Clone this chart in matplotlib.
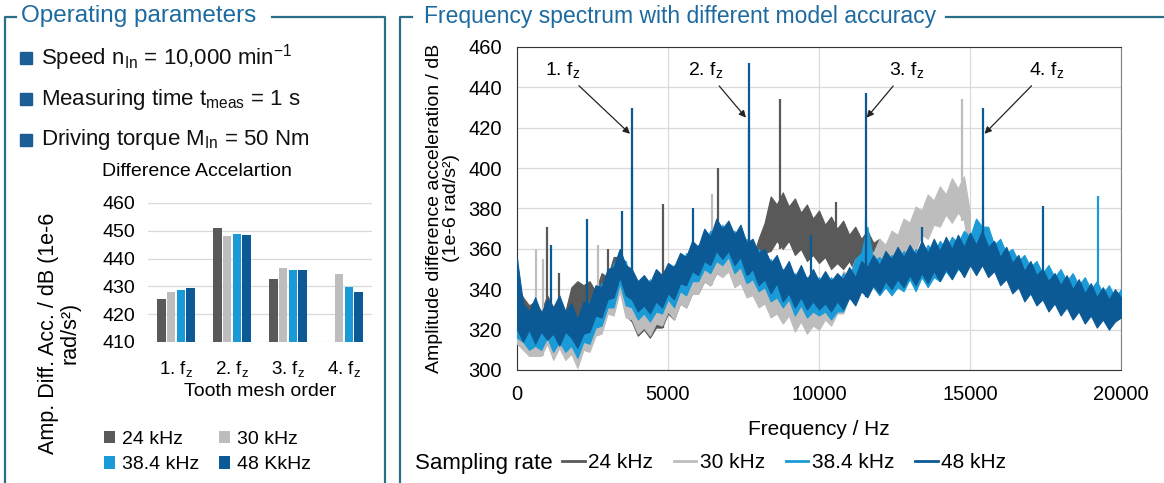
import matplotlib.pyplot as plt
from matplotlib.lines import Line2D
import numpy as np

plt.rcParams['font.family'] = ['Liberation Sans', 'DejaVu Sans']
plt.rcParams['mathtext.fontset'] = 'custom'
plt.rcParams['mathtext.rm'] = 'Liberation Sans'
plt.rcParams['mathtext.it'] = 'Liberation Sans:italic'
NARROW = ['Liberation Sans Narrow', 'Liberation Sans']

# ---- data ----
orders = ['1. f$_\\mathrm{z}$', '2. f$_\\mathrm{z}$', '3. f$_\\mathrm{z}$', '4. f$_\\mathrm{z}$']
bar_24 = [425.5, 451.0, 432.8, np.nan]
bar_30 = [428.0, 448.3, 436.7, 434.3]
bar_38 = [428.7, 448.8, 435.8, 429.8]
bar_48 = [429.3, 448.4, 436.0, 428.0]

# spectrum noise band: low and high values every 200 Hz
step = 200
lo_48 = [320, 314, 320, 313, 319, 315, 318, 312, 319, 316,
         311, 318, 319, 327, 326, 335, 336, 346, 337, 335,
         329, 332, 328, 334, 331, 338, 335, 343, 342, 349,
         347, 354, 352, 359, 355, 359, 352, 356, 347, 350,
         342, 345, 338, 343, 334, 338, 331, 336, 330, 334,
         330, 333, 329, 334, 330, 336, 332, 339, 336, 342,
         338, 344, 340, 345, 341, 347, 342, 348, 343, 349,
         344, 350, 345, 351, 346, 352, 347, 352, 346, 349,
         342, 345, 338, 341, 334, 338, 332, 335, 329, 333,
         327, 331, 325, 329, 323, 327, 321, 325, 320, 324, 326]
hi_48 = [355, 333, 329, 336, 328, 335, 331, 337, 329, 333,
         325, 334, 333, 342, 341, 350, 351, 360, 352, 350,
         344, 347, 343, 350, 347, 353, 351, 358, 356, 364,
         361, 370, 366, 375, 370, 374, 367, 372, 363, 365,
         358, 360, 353, 357, 349, 354, 346, 352, 345, 350,
         344, 349, 344, 348, 345, 351, 346, 354, 351, 357,
         352, 359, 355, 361, 356, 362, 357, 364, 358, 365,
         359, 366, 360, 367, 361, 368, 362, 369, 361, 364,
         356, 361, 353, 357, 349, 354, 347, 350, 344, 348,
         342, 347, 340, 345, 338, 343, 336, 341, 335, 340, 336]
lo_38 = [316, 314, 310, 312, 310, 316, 309, 314, 309, 312,
         306, 314, 313, 321, 322, 331, 331, 343, 332, 331,
         325, 328, 324, 329, 328, 335, 331, 339, 337, 344,
         344, 350, 348, 354, 352, 356, 348, 351, 343, 345,
         339, 341, 334, 336, 331, 335, 327, 332, 326, 329,
         327, 329, 325, 329, 329, 336, 333, 344, 343, 341,
         337, 341, 337, 341, 339, 345, 339, 346, 341, 346,
         344, 349, 345, 350, 348, 354, 351, 357, 349, 350,
         345, 347, 340, 342, 337, 341, 334, 337, 331, 334,
         330, 333, 327, 330, 326, 330, 323, 327, 322, 326, 326]
hi_38 = [345, 330, 325, 329, 324, 331, 325, 330, 324, 328,
         323, 324, 334, 333, 343, 342, 353, 355, 354, 342,
         343, 338, 345, 339, 347, 344, 352, 349, 358, 355,
         362, 362, 369, 366, 372, 365, 369, 361, 365, 356,
         360, 351, 355, 348, 350, 345, 348, 343, 346, 342,
         346, 340, 346, 340, 348, 345, 355, 358, 371, 354,
         356, 352, 357, 353, 359, 355, 360, 356, 362, 358,
         364, 360, 366, 363, 369, 366, 375, 371, 371, 362,
         365, 358, 360, 354, 357, 351, 354, 348, 352, 346,
         350, 344, 348, 342, 346, 340, 344, 338, 342, 336, 340]
lo_30 = [313, 310, 307, 307, 307, 313, 305, 311, 305, 308,
         301, 310, 309, 317, 318, 328, 327, 339, 326, 325,
         318, 321, 317, 323, 322, 329, 325, 333, 331, 338,
         338, 344, 342, 348, 346, 349, 341, 343, 336, 337,
         331, 333, 326, 328, 323, 327, 319, 324, 318, 322,
         320, 325, 322, 328, 328, 336, 333, 342, 340, 346,
         345, 351, 348, 354, 354, 362, 359, 367, 365, 372,
         371, 377, 373, 378, 374, 355]
hi_30 = [340, 328, 324, 326, 321, 328, 322, 326, 321, 325,
         320, 321, 331, 330, 340, 340, 352, 354, 352, 338,
         338, 333, 340, 335, 343, 340, 348, 346, 355, 352,
         359, 359, 366, 363, 369, 362, 365, 357, 360, 351,
         354, 346, 349, 342, 344, 339, 342, 336, 340, 336,
         341, 337, 344, 341, 349, 347, 355, 354, 361, 358,
         365, 362, 369, 367, 375, 373, 381, 379, 387, 384,
         391, 387, 395, 390, 396, 378]
lo_24 = [316, 316, 313, 313, 313, 317, 314, 315, 312, 319,
         320, 327, 319, 325, 325, 333, 332, 342, 327, 324,
         317, 320, 316, 321, 321, 328, 325, 333, 331, 338,
         338, 344, 342, 348, 347, 350, 342, 344, 337, 338,
         341, 358, 359, 364, 360, 364, 357, 360, 354, 357,
         353, 356, 350, 353, 350, 354, 348, 352, 347, 351, 350]
hi_24 = [342, 336, 332, 334, 329, 337, 331, 335, 329, 341,
         344, 342, 344, 339, 348, 346, 356, 356, 351, 338,
         338, 334, 339, 335, 344, 340, 349, 346, 355, 352,
         359, 358, 366, 364, 371, 364, 367, 359, 363, 355,
         365, 373, 386, 382, 388, 381, 385, 378, 382, 375,
         379, 372, 376, 370, 374, 367, 371, 365, 369, 363, 365]

# spikes (frequency in Hz, peak in dB)
spk_48_f = [0, 1140, 2320, 3480, 3800, 5830, 7680, 9730, 11550, 13400, 15430, 17420]
spk_48_v = [355, 362, 375, 379, 430, 380, 452, 367, 437, 371, 430, 381]
spk_38_f = [3800, 7680, 11550, 15430, 19240]
spk_38_v = [400, 420, 375, 375, 386]
spk_30_f = [630, 850, 2670, 6460, 14750]
spk_30_v = [360, 355, 362, 387, 434]
spk_24_f = [980, 1400, 3000, 4830, 6650, 8700, 10560]
spk_24_v = [371, 348, 360, 382, 400, 434, 383]

rates = ['24 kHz', '30 kHz', '38.4 kHz', '48 kHz']
bar_labels = ['24 kHz', '30 kHz', '38.4 kHz', '48 KkHz']
colors = ['#595959', '#bdbdbd', '#1a9ad6', '#0b5a96']

frame_c = '#2b6e88'
title_c = '#1d6aa0'

W, H = 1164, 483
fig = plt.figure(figsize=(W / 100, H / 100), dpi=100)


def fx(x):
    return x / W


def fy(y):
    return 1 - y / H


def fline(xs, ys):
    fig.add_artist(Line2D([fx(v) for v in xs], [fy(v) for v in ys],
                          color=frame_c, lw=1.6, transform=fig.transFigure))


# ---- panel frames and titles ----
fline([16, 5, 5], [17, 17, 483])
fline([272, 385, 385], [17, 17, 483])
fline([412, 400, 400], [17, 17, 483])
fline([946, 1164], [17, 17])
fig.text(fx(21), fy(16), 'Operating parameters', color=title_c, fontsize=17.5, va='center')
fig.text(fx(424), fy(16), 'Frequency spectrum with different model accuracy', color=title_c,
         fontsize=16.5, va='center', family=NARROW)

bullets = ['Speed n$_\\mathrm{In}$ = 10,000 min$^\\mathrm{-1}$',
           'Measuring time t$_\\mathrm{meas}$ = 1 s',
           'Driving torque M$_\\mathrm{In}$ = 50 Nm']
for i, b in enumerate(bullets):
    y = 58 + i * 41
    fig.patches.append(plt.Rectangle((fx(20), fy(y + 6)), 12 / W, 12 / H, color='#1b5e95',
                                     transform=fig.transFigure))
    fig.text(fx(41), fy(y), b, fontsize=16, va='center', color='#111111')

# ---- bar chart ----
axb = fig.add_axes([fx(148), fy(342), (372 - 148) / W, (342 - 203) / H])
xb = np.arange(len(orders))
bw = 0.155
for k, vals in enumerate([bar_24, bar_30, bar_38, bar_48]):
    axb.bar(xb + (k - 1.5) * (bw + 0.02), np.array(vals) - 410, bottom=410, width=bw,
            color=colors[k], label=bar_labels[k], zorder=3)
axb.set_ylim(410, 460)
axb.set_yticks(range(410, 461, 10))
axb.set_xlim(-0.5, 3.5)
axb.set_xticks(xb)
axb.set_xticklabels(orders, fontsize=13.5)
axb.tick_params(axis='y', labelsize=14, length=0, pad=9)
axb.tick_params(axis='x', length=0, pad=12)
axb.grid(axis='y', color='#d9d9d9', lw=0.9, zorder=0)
for s in axb.spines.values():
    s.set_visible(False)
axb.set_xlabel('Tooth mesh order', fontsize=14, labelpad=3)
fig.text(fx(197), fy(172), 'Difference Accelartion', fontsize=14, ha='center', va='center')
fig.text(fx(59), fy(333), 'Amp. Diff. Acc. / dB (1e-6\nrad/s²)', fontsize=15.5, rotation=90,
         ha='center', va='center', linespacing=1.05)
hb, lb = axb.get_legend_handles_labels()
order = [0, 2, 1, 3]
fig.legend([hb[i] for i in order], [lb[i] for i in order], ncol=2, loc='upper left',
           bbox_to_anchor=(fx(86), fy(413)), frameon=False, fontsize=14,
           handlelength=0.6, handleheight=0.6, handletextpad=0.35,
           columnspacing=1.0, labelspacing=0.45)

# ---- spectrum ----
ax = fig.add_axes([fx(517), fy(370), (1121 - 517) / W, (370 - 47) / H])
series = [(lo_24, hi_24, spk_24_f, spk_24_v), (lo_30, hi_30, spk_30_f, spk_30_v),
          (lo_38, hi_38, spk_38_f, spk_38_v), (lo_48, hi_48, spk_48_f, spk_48_v)]
for k, (lo, hi, sf, sv) in enumerate(series):
    n = len(lo)
    f = np.arange(n) * step
    ax.fill_between(f, lo, hi, color=colors[k], lw=0.8, edgecolor=colors[k], zorder=2 + k)
    base = [lo[min(int(round(q / step)), n - 1)] for q in sf]
    ax.vlines(sf, base, sv, color=colors[k], lw=1.6, zorder=2 + k)

ax.set_xlim(0, 20000)
ax.set_ylim(300, 460)
ax.set_xticks(range(0, 20001, 5000))
ax.set_yticks(range(300, 461, 20))
ax.grid(color='#d9d9d9', lw=0.9, zorder=0)
ax.tick_params(labelsize=14.5, length=0, pad=11)
ax.spines['right'].set_color('#808080')
for s in ['left', 'bottom', 'top']:
    ax.spines[s].set_color('#333333')
ax.set_xlabel('Frequency / Hz', fontsize=15, labelpad=11, family=NARROW)
ax.set_ylabel('Amplitude difference acceleration / dB\n(1e-6 rad/s²)', fontsize=14,
              labelpad=6, linespacing=1.0)

notes = [('1. f$_\\mathrm{z}$', 1500, 448.6, 3740, 417),
         ('2. f$_\\mathrm{z}$', 6250, 448.6, 7580, 425),
         ('3. f$_\\mathrm{z}$', 12900, 448.6, 11580, 425),
         ('4. f$_\\mathrm{z}$', 17550, 448.6, 15480, 417)]
for t, tx, ty, px, py in notes:
    ax.annotate(t, xy=(px, py), xytext=(tx, ty), fontsize=14, ha='center', va='center',
                arrowprops=dict(arrowstyle='-|>', color='#222222', lw=0.9,
                                mutation_scale=10, shrinkA=3, shrinkB=0), zorder=10)

fig.text(fx(415), fy(463), 'Sampling rate', fontsize=16, va='center', family=NARROW)
hs = [Line2D([], [], color=c, lw=2) for c in colors]
fig.legend(hs, rates, ncol=4, loc='center left', bbox_to_anchor=(fx(543), fy(463)),
           frameon=False, handlelength=1.1, handletextpad=0.15,
           columnspacing=1.0, prop={'family': NARROW, 'size': 15})

fig.savefig('out.png', dpi=100)
